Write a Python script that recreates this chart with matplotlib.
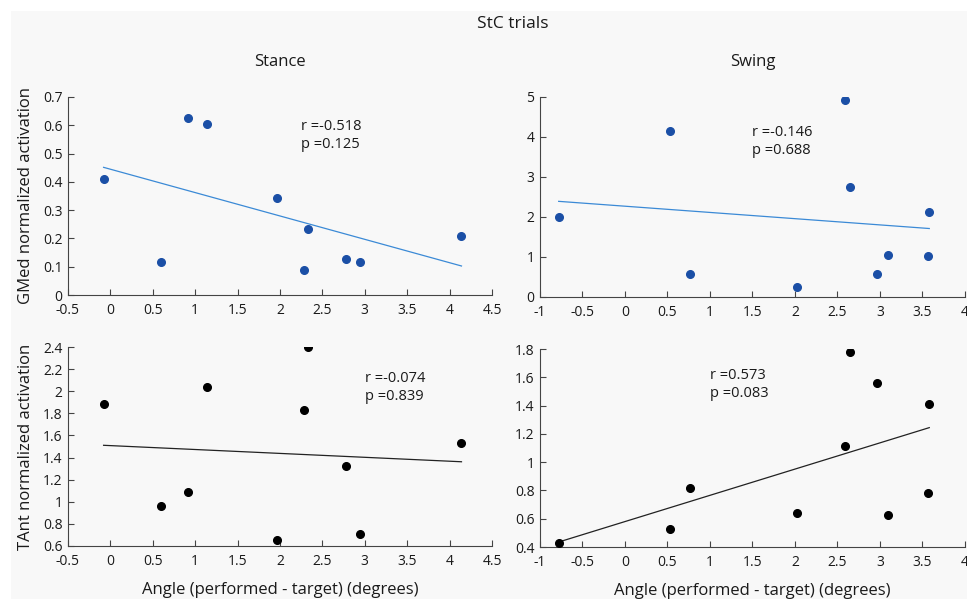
#!/usr/bin/env python3

import numpy as np
import matplotlib
matplotlib.use('Agg')

import matplotlib.pyplot as plt
from matplotlib.patches import Rectangle

# angle error per subject (performed - target), degrees
stance_angle = [-0.08, 0.91, 1.145, 0.60, 1.97, 2.33, 2.28, 2.78, 2.945, 4.14]
swing_angle = [-0.78, 0.525, 0.765, 2.02, 2.585, 2.645, 2.965, 3.09, 3.58, 3.56]

# normalized EMG activation
gmed_stance = [0.41, 0.626, 0.606, 0.116, 0.344, 0.233, 0.088, 0.128, 0.116, 0.208]
gmed_swing = [2.01, 4.16, 0.58, 0.24, 4.92, 2.74, 0.57, 1.06, 2.13, 1.02]
tant_stance = [1.882, 1.088, 2.036, 0.958, 0.654, 2.397, 1.828, 1.325, 0.711, 1.530]
tant_swing = [0.428, 0.525, 0.819, 0.639, 1.114, 1.781, 1.561, 0.625, 1.414, 0.781]

r_values = ['-0.518', '-0.146', '-0.074', '0.573']
p_values = ['0.125', '0.688', '0.839', '0.083']

BLUE_DOT = '#1b4fa6'
BLUE_LINE = '#3b8ad6'
INK = '#1a1a1a'


def panel(ax, x, y, dot_color, line_color, xlim, ylim, yticks, ticklabels,
          r, p, text_xy):
    x = np.asarray(x)
    y = np.asarray(y)
    ax.plot(x, y, 'o', color=dot_color, markersize=5.5, zorder=3)
    slope, icept = np.polyfit(x, y, 1)
    xs = np.array([x.min(), x.max()])
    ax.plot(xs, slope * xs + icept, color=line_color, lw=0.9)

    ax.set_xlim(xlim)
    ax.set_ylim(ylim)
    xt = np.arange(xlim[0], xlim[1] + 0.01, 0.5)
    ax.set_xticks(xt)
    ax.set_xticklabels(['%g' % v for v in xt])
    ax.set_yticks(yticks)
    ax.set_yticklabels(ticklabels)
    ax.set_facecolor('none')
    for side in ('top', 'right'):
        ax.spines[side].set_visible(False)
    for side in ('left', 'bottom'):
        ax.spines[side].set_color('#444444')
        ax.spines[side].set_linewidth(0.8)
    ax.tick_params(direction='in', length=4, width=0.8, color='#444444',
                   labelsize=10, labelcolor=INK)
    ax.tick_params(axis='x', pad=6)
    ax.tick_params(axis='y', pad=4)

    tx, ty = text_xy
    ax.text(tx, ty, 'r =' + r + '\np =' + p, transform=ax.transAxes,
            ha='left', va='top', fontsize=10.5, color=INK, linespacing=1.3)


def main():
    plt.rcParams['font.family'] = ['Open Sans', 'DejaVu Sans']

    fig = plt.figure(figsize=(9.67, 5.99), dpi=100)
    fig.patch.set_facecolor('white')
    # light grey panel behind everything, leaving a thin white margin top/left
    fig.add_artist(Rectangle((11 / 967, 0), 1, 1 - 11 / 599,
                             transform=fig.transFigure,
                             facecolor='#f8f8f8', edgecolor='none', zorder=-10))

    ax_tl = fig.add_axes([0.0703, 0.5075, 0.4385, 0.3306])
    ax_tr = fig.add_axes([0.5584, 0.5042, 0.4395, 0.3339])
    ax_bl = fig.add_axes([0.0703, 0.0885, 0.4385, 0.3322])
    ax_br = fig.add_axes([0.5584, 0.0868, 0.4395, 0.3305])

    panel(ax_tl, stance_angle, gmed_stance, BLUE_DOT, BLUE_LINE,
          (-0.5, 4.5), (0, 0.7), np.arange(0, 0.71, 0.1),
          ['0', '0.1', '0.2', '0.3', '0.4', '0.5', '0.6', '0.7'],
          r_values[0], p_values[0], (0.55, 0.89))
    panel(ax_tr, swing_angle, gmed_swing, BLUE_DOT, BLUE_LINE,
          (-1, 4), (0, 5), np.arange(0, 5.1, 1),
          ['0', '1', '2', '3', '4', '5'],
          r_values[1], p_values[1], (0.50, 0.86))
    panel(ax_bl, stance_angle, tant_stance, 'black', '#222222',
          (-0.5, 4.5), (0.6, 2.4), np.arange(0.6, 2.41, 0.2),
          ['0.6', '0.8', '1', '1.2', '1.4', '1.6', '1.8', '2', '2.2', '2.4'],
          r_values[2], p_values[2], (0.70, 0.88))
    panel(ax_br, swing_angle, tant_swing, 'black', '#222222',
          (-1, 4), (0.4, 1.8), np.arange(0.4, 1.81, 0.2),
          ['0.4', '0.6', '0.8', '1', '1.2', '1.4', '1.6', '1.8'],
          r_values[3], p_values[3], (0.40, 0.905))

    ax_tl.set_ylabel('GMed normalized activation', fontsize=12, color=INK, labelpad=6)
    ax_bl.set_ylabel('TAnt normalized activation', fontsize=12, color=INK, labelpad=6)
    ax_bl.set_xlabel('Angle (performed - target) (degrees)', fontsize=12,
                     color=INK, labelpad=9)
    ax_br.set_xlabel('Angle (performed - target) (degrees)', fontsize=12,
                     color=INK, labelpad=9)

    ax_tl.set_title('Stance', fontsize=12, color=INK, pad=22)
    ax_tr.set_title('Swing', fontsize=12, color=INK, pad=22)
    fig.text(0.53, 0.96, 'StC trials', ha='center', va='center',
             fontsize=12.5, color=INK)

    fig.savefig('out.png', dpi=100, facecolor=fig.get_facecolor())


if __name__ == "__main__":
    main()
